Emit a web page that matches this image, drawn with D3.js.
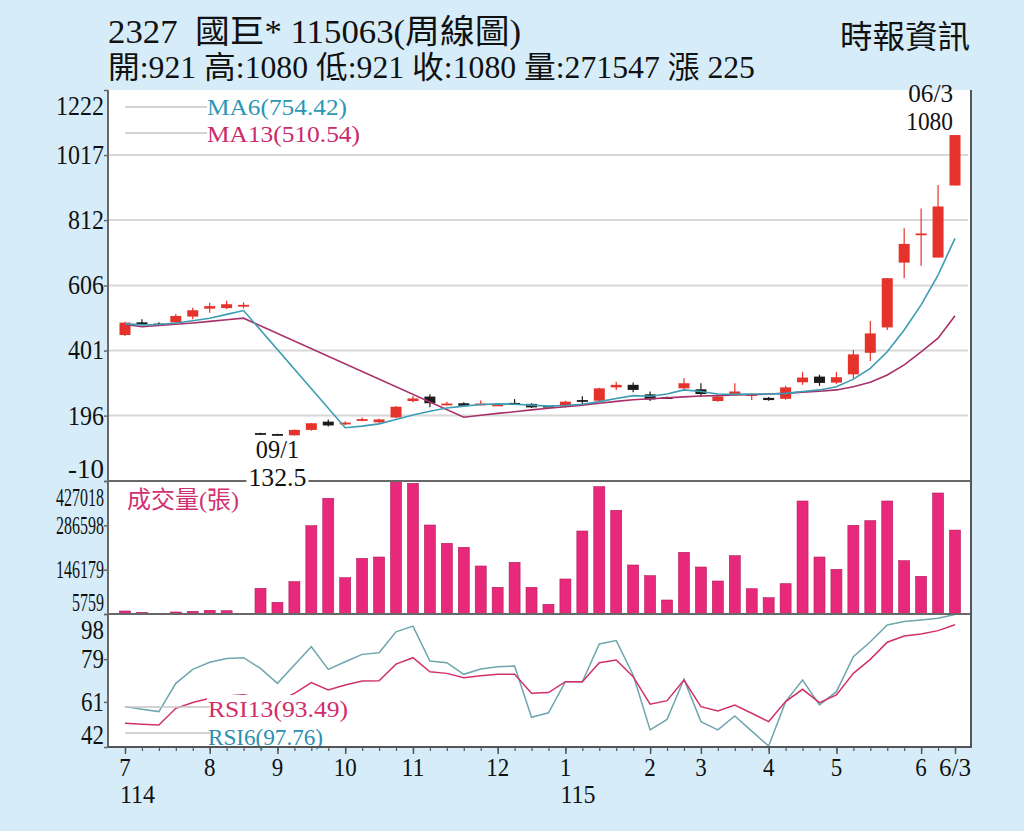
<!DOCTYPE html>
<html>
<head>
<meta charset="utf-8">
<title>2327 國巨* 周線圖</title>
<script src="https://cdn.jsdelivr.net/npm/d3@7"></script>
<style>
  body { margin: 0; background: #d6edf9; }
  svg text { font-family: "Liberation Serif", "Noto Sans CJK TC", serif; }
</style>
</head>
<body>
<script>
// weekly candles, 7/2025 (114) .. 6/3/2026 (115)
var opens  = [450, 490, 486, 490, 508, 533, 535, 542, 141, 138, 134, 151, 177, 169, 180, 175, 190, 242, 256, 232,
              235, 232, 229, 236, 233, 227, 224, 245, 243, 285, 293, 263, 254, 282, 279, 242, 261, 258, 252, 249,
              301, 319, 300, 326, 394, 474, 678, 765, 694, 921];
var highs  = [492, 500, 490, 516, 536, 552, 558, 553, 142, 139, 152, 173, 184, 178, 190, 186, 226, 258, 263, 240,
              238, 244, 236, 248, 235, 228, 243, 257, 284, 303, 300, 272, 256, 314, 298, 258, 298, 266, 255, 290,
              334, 325, 334, 403, 494, 629, 786, 849, 923, 1080];
var lows   = [447, 483, 481, 488, 500, 520, 531, 534, 135, 132.5, 133, 148, 162, 166, 178, 173, 188, 238, 222, 229,
              225, 229, 227, 231, 220, 224, 221, 232, 241, 277, 270, 242, 250, 279, 255, 240, 258, 245, 243, 246,
              293, 290, 296, 314, 368, 466, 629, 668, 694, 921];
var closes = [489, 487, 484, 510, 528, 541, 547, 545, 139, 136, 151, 172, 165, 174, 185, 184, 224, 250, 235, 234,
              227, 234, 231, 235, 222, 225, 240, 240, 282, 293, 277, 247, 252, 298, 264, 256, 272, 264, 245, 285,
              316, 299, 317, 389, 455, 629, 737, 770, 855, 1080];
var volumes = [15260, 11140, 5759, 12090, 14310, 17480, 16210, 6500, 87160, 42820,
               108070, 285440, 372220, 120740, 182180, 186300, 427018, 419740, 287660, 229690,
               217030, 157790, 90330, 169510, 90330, 36480, 116620, 268650, 409000, 334220,
               160960, 127070, 50100, 201190, 154630, 110280, 190420, 85890, 57390, 101730,
               363670, 186300, 147340, 286710, 301280, 363670, 174580, 125170, 389020, 271547];
var ma6 = [485, 482, 483, 488, 495, 503, 515, 527, null, null, null, null, null,
           158, 163, 170, 184, 198, 210, 220, 226, 231, 233, 232, 229, 226, 228, 232, 240, 250,
           259, 257, 264, 277, 272, 264, 263, 264, 264, 266, 272, 277, 287, 311, 345, 397, 466, 545, 639, 754.42];
var ma13 = [483, 476, 480, 484, 488, 493, 498, 503, null, null, null, null, null, null, null, null, null, null, null, null,
            191, 197, 203, 208, 214, 219, 224, 229, 235, 241, 246, 249, 252, 255, 258, 259, 261, 262, 264, 266,
            270, 273, 277, 287, 301, 324, 356, 397, 440, 510.54];
var rsi6 = [59.0, 57.9, 56.9, 68.8, 74.7, 77.7, 79.3, 79.6, 75.1, 68.8,
            76.5, 84.2, 74.7, 77.9, 81.0, 81.7, 90.5, 92.9, 78.2, 77.5,
            72.6, 74.8, 75.8, 76.1, 54.5, 56.4, 69.5, 69.5, 85.4, 86.8,
            72.3, 49.2, 53.6, 70.5, 52.7, 49.2, 55.1, 48.7, 42.4, 61.1,
            70.2, 59.7, 65.3, 80.0, 86.3, 93.4, 94.8, 95.5, 96.2, 97.76];
var rsi13 = [52.0, 51.6, 51.3, 58.3, 60.7, 62.5, 63.5, 64.0, 62.5, 61.0,
             64.6, 69.1, 66.0, 68.1, 69.8, 69.9, 76.9, 79.6, 73.7, 73.0,
             71.2, 72.0, 72.6, 72.6, 64.6, 64.9, 69.5, 69.5, 77.5, 78.6,
             71.6, 60.0, 61.5, 70.2, 59.0, 57.2, 59.7, 56.2, 52.7, 61.1,
             66.3, 60.7, 63.9, 73.0, 78.9, 86.1, 88.7, 89.6, 91.0, 93.49];

var priceTicks = [-10, 196, 401, 606, 812, 1017, 1222];
var volTicks = [5759, 146179, 286598, 427018];
var rsiTicks = [42, 61, 79, 98];
var monthIdx = [0, 5, 9, 13, 17, 22, 26, 31, 34, 38, 42, 47, 49];
var monthLabels = ["7", "8", "9", "10", "11", "12", "1", "2", "3", "4", "5", "6", "6/3"];
var yearLabels = [["114", 0], ["115", 26]];

var W = 1024, H = 831;
var left = 108, right = 971;
var pTop = 90, pBot = 481, vBot = 614, rBot = 747;

var svg = d3.select("body").append("svg")
  .attr("width", W)
  .attr("height", H);

svg.append("rect").attr("width", W).attr("height", H).attr("fill", "#d6edf9");
svg.append("rect")
  .attr("x", left).attr("y", pTop)
  .attr("width", right - left).attr("height", rBot - pTop)
  .attr("fill", "#fff");

var x = d3.scalePoint().domain(d3.range(closes.length)).range([125, 955]);
var yP = d3.scaleLinear().domain([-10, 1222]).range([pBot, pTop]);
var yV = d3.scaleLinear().domain([5759, 427018]).range([vBot, pBot]);
var yR = d3.scaleLinear().domain([42, 98]).range([rBot, vBot]);

// condensed serif text like the original
function label(g, txt, px, py, size, charW, anchor, color) {
  var t = g.append("text")
    .attr("x", px).attr("y", py)
    .attr("font-size", size)
    .attr("text-anchor", anchor || "start")
    .attr("fill", color || "#111")
    .text(txt);
  if (charW) t.attr("textLength", txt.length * charW).attr("lengthAdjust", "spacingAndGlyphs");
  return t;
}

// gridlines
svg.append("g").selectAll("line")
  .data(priceTicks.slice(1, -1))
  .enter().append("line")
  .attr("x1", left).attr("x2", right - 3)
  .attr("y1", function(d) { return yP(d); })
  .attr("y2", function(d) { return yP(d); })
  .attr("stroke", "#d8d8d8").attr("stroke-width", 2);

// left axes (ticks only), labels drawn by hand
function leftAxis(scale, ticks, top, bot, size, charW) {
  var g = svg.append("g").attr("transform", "translate(" + left + ",0)")
    .call(d3.axisLeft(scale).tickValues(ticks).tickSize(4).tickFormat(""));
  g.select(".domain").remove();
  g.selectAll(".tick line").attr("stroke", "#666").attr("stroke-width", 1.5);
  ticks.forEach(function(t) {
    var cy = Math.max(top + 16, Math.min(bot - 12, scale(t)));
    label(svg, String(t), left - 4, cy + size * 0.33, size, charW, "end");
  });
}
leftAxis(yP, priceTicks, pTop, pBot, 27, 12);
leftAxis(yV, volTicks, pBot, vBot, 26, 8);
leftAxis(yR, rsiTicks, vBot, rBot, 27, 11.5);

// ---- price panel ----
var upC = "#e5322b", downC = "#1c1c1c";
var bw = 11;
var idx = d3.range(closes.length);

svg.append("g").selectAll("line")
  .data(idx).enter().append("line")
  .attr("x1", function(i) { return x(i); })
  .attr("x2", function(i) { return x(i); })
  .attr("y1", function(i) { return yP(highs[i]); })
  .attr("y2", function(i) { return yP(lows[i]); })
  .attr("stroke", function(i) { return closes[i] >= opens[i] ? upC : downC; })
  .attr("stroke-width", 1.2);

svg.append("g").selectAll("rect")
  .data(idx).enter().append("rect")
  .attr("x", function(i) { return x(i) - bw / 2; })
  .attr("width", bw)
  .attr("y", function(i) { return yP(Math.max(opens[i], closes[i])); })
  .attr("height", function(i) { return Math.max(1.8, Math.abs(yP(opens[i]) - yP(closes[i]))); })
  .attr("fill", function(i) { return closes[i] >= opens[i] ? upC : downC; });

function maLine(vals, color) {
  var pts = idx.filter(function(i) { return vals[i] != null; });
  svg.append("path")
    .datum(pts)
    .attr("fill", "none")
    .attr("stroke", color)
    .attr("stroke-width", 1.6)
    .attr("d", d3.line().x(function(i) { return x(i); }).y(function(i) { return yP(vals[i]); }));
}
maLine(ma13, "#a8306a");
maLine(ma6, "#3a9db2");

// MA legend
svg.append("line").attr("x1", 125).attr("x2", 207).attr("y1", 107).attr("y2", 107).attr("stroke", "#c4c4c4").attr("stroke-width", 1.5);
svg.append("line").attr("x1", 125).attr("x2", 207).attr("y1", 133).attr("y2", 133).attr("stroke", "#c4c4c4").attr("stroke-width", 1.5);
label(svg, "MA6(" + ma6[ma6.length - 1] + ")", 207, 115, 24, 140 / 11, "start", "#2b97b6");
label(svg, "MA13(" + ma13[ma13.length - 1] + ")", 207, 142, 24, 153 / 12, "start", "#c92a6b");

// high / low marks
var last = closes.length - 1;
label(svg, "06/3", 953, 102, 25, 11.2, "end");
label(svg, String(highs[last]), 953, 130, 25, 11.7, "end");
var lowI = d3.minIndex(lows);
label(svg, "09/1", x(lowI), 458, 25, 10.8, "middle");

// ---- volume panel ----
svg.append("g").selectAll("rect")
  .data(idx).enter().append("rect")
  .attr("x", function(i) { return x(i) - bw / 2; })
  .attr("width", bw)
  .attr("y", function(i) { return yV(volumes[i]); })
  .attr("height", function(i) { return vBot - yV(volumes[i]); })
  .attr("fill", "#e8297b")
  .attr("stroke", "#b21d5c")
  .attr("stroke-width", 0.6);
label(svg, "成交量(張)", 127, 508, 24, null, "start", "#d23171");

// ---- rsi panel ----
function rsiLine(vals, color) {
  svg.append("path")
    .datum(idx)
    .attr("fill", "none")
    .attr("stroke", color)
    .attr("stroke-width", 1.5)
    .attr("d", d3.line().x(function(i) { return x(i); }).y(function(i) { return yR(vals[i]); }));
}
rsiLine(rsi6, "#6ea6ad");
rsiLine(rsi13, "#d2306a");

svg.append("rect").attr("x", 207).attr("y", 695).attr("width", 146).attr("height", 50).attr("fill", "#fff");
svg.append("line").attr("x1", 125).attr("x2", 210).attr("y1", 707).attr("y2", 707).attr("stroke", "#c4c4c4").attr("stroke-width", 1.5);
svg.append("line").attr("x1", 125).attr("x2", 210).attr("y1", 733).attr("y2", 733).attr("stroke", "#c4c4c4").attr("stroke-width", 1.5);
label(svg, "RSI13(" + rsi13[last] + ")", 208, 717, 24, 140 / 12, "start", "#d22d6a");
label(svg, "RSI6(" + rsi6[last] + ")", 208, 745, 24, 115 / 11, "start", "#2b8fb3");

// panel frame lines
function hline(y, w) {
  svg.append("line").attr("x1", left).attr("x2", right).attr("y1", y).attr("y2", y)
    .attr("stroke", "#686868").attr("stroke-width", w);
}
hline(pBot, 2);
hline(vBot, 2);
svg.append("line").attr("x1", left).attr("x2", left).attr("y1", pTop).attr("y2", rBot).attr("stroke", "#686868").attr("stroke-width", 2);
svg.append("line").attr("x1", right).attr("x2", right).attr("y1", pTop).attr("y2", rBot).attr("stroke", "#555").attr("stroke-width", 2);

// low value label sits over the separator
svg.append("rect").attr("x", x(lowI) - 31).attr("y", 467).attr("width", 62).attr("height", 20).attr("fill", "#fff");
label(svg, String(lows[lowI]), x(lowI), 486, 25, 11.6, "middle");

// x axis
var xg = svg.append("g").attr("transform", "translate(0," + rBot + ")")
  .call(d3.axisBottom(x).tickValues(idx).tickSize(4).tickFormat(""));
xg.select(".domain").remove();
xg.selectAll(".tick line").attr("stroke", "#555").attr("stroke-width", 1.2);
svg.append("g").attr("transform", "translate(0," + rBot + ")")
  .call(d3.axisBottom(x).tickValues(monthIdx).tickSize(7).tickFormat(""))
  .call(function(g) { g.select(".domain").remove(); g.selectAll(".tick line").attr("stroke", "#555").attr("stroke-width", 1.5); });
svg.append("line").attr("x1", left).attr("x2", right + 1).attr("y1", rBot).attr("y2", rBot).attr("stroke", "#555").attr("stroke-width", 2);

monthIdx.forEach(function(m, k) {
  label(svg, monthLabels[k], x(m), 776, 26, monthLabels[k].length === 3 ? 10.7 : 11.5, "middle");
});
yearLabels.forEach(function(d) {
  label(svg, d[0], x(d[1]) - 5, 803, 26, 11.7, "start");
});

// header
label(svg, "2327  國巨* 115063(周線圖)", 108, 43, 33, null, "start").style("white-space", "pre")
  .attr("textLength", 413).attr("lengthAdjust", "spacingAndGlyphs");
label(svg, "開:921 高:1080 低:921 收:1080 量:271547 漲 225", 108, 78, 31, null, "start")
  .attr("textLength", 647).attr("lengthAdjust", "spacingAndGlyphs");
label(svg, "時報資訊", 840, 48, 32, null, "start")
  .attr("textLength", 130).attr("lengthAdjust", "spacingAndGlyphs");
</script>
</body>
</html>
